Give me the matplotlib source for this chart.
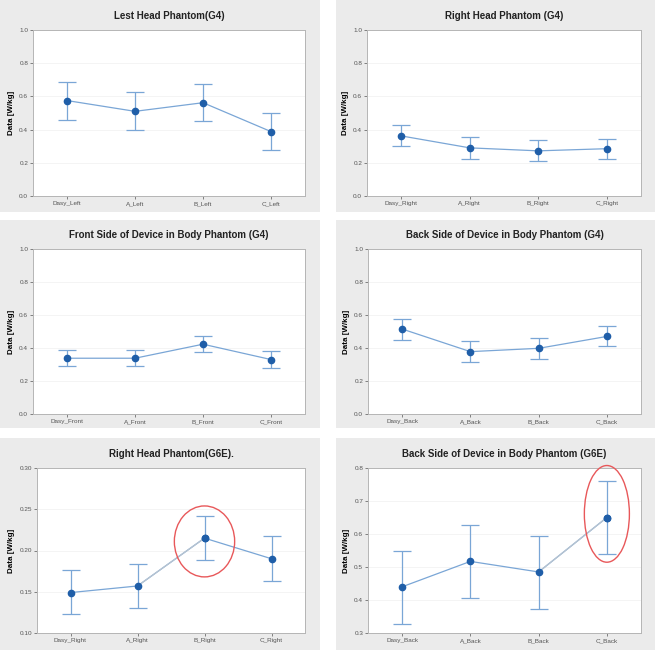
import matplotlib.pyplot as plt
from matplotlib.patches import Rectangle, Ellipse

plt.rcParams['font.family'] = ['Liberation Sans', 'DejaVu Sans']

# panel data: means and error-bar ends
titles = ['Lest Head Phantom(G4)', 'Right Head Phantom (G4)',
          'Front Side of Device in Body Phantom (G4)', 'Back Side of Device in Body Phantom (G4)',
          'Right Head Phantom(G6E).', 'Back Side of Device in Body Phantom (G6E)']
labels = [['Dasy_Left', 'A_Left', 'B_Left', 'C_Left'],
          ['Dasy_Right', 'A_Right', 'B_Right', 'C_Right'],
          ['Dasy_Front', 'A_Front', 'B_Front', 'C_Front'],
          ['Dasy_Back', 'A_Back', 'B_Back', 'C_Back'],
          ['Dasy_Right', 'A_Right', 'B_Right', 'C_Right'],
          ['Dasy_Back', 'A_Back', 'B_Back', 'C_Back']]
means = [[0.575, 0.510, 0.562, 0.388],
         [0.362, 0.290, 0.272, 0.285],
         [0.338, 0.338, 0.423, 0.330],
         [0.515, 0.378, 0.398, 0.470],
         [0.149, 0.157, 0.215, 0.190],
         [0.440, 0.517, 0.485, 0.650]]
lows = [[0.460, 0.395, 0.450, 0.275],
        [0.300, 0.225, 0.210, 0.225],
        [0.290, 0.290, 0.375, 0.277],
        [0.450, 0.313, 0.335, 0.410],
        [0.123, 0.130, 0.188, 0.163],
        [0.328, 0.406, 0.374, 0.540]]
highs = [[0.685, 0.625, 0.675, 0.500],
         [0.425, 0.355, 0.335, 0.345],
         [0.385, 0.385, 0.470, 0.380],
         [0.578, 0.440, 0.462, 0.535],
         [0.176, 0.184, 0.242, 0.217],
         [0.548, 0.628, 0.593, 0.760]]
ylims = [(0, 1.0), (0, 1.0), (0, 1.0), (0, 1.0), (0.10, 0.30), (0.3, 0.8)]
yticks = [[0, 0.2, 0.4, 0.6, 0.8, 1.0]] * 4 + [[0.10, 0.15, 0.20, 0.25, 0.30], [0.3, 0.4, 0.5, 0.6, 0.7, 0.8]]
ytick_fmt = ['%.1f'] * 4 + ['%.2f', '%.1f']
# highlighted point: (panel, index, ellipse centre y, width, height)
marks = [(4, 2, 0.211, 0.9, 0.086), (5, 3, 0.661, 0.66, 0.293)]

W, H = 655, 650
# pixel boxes (left, top, right, bottom)
panel_boxes = [(0, 0, 320, 212), (336, 0, 655, 212),
               (0, 220, 320, 428), (336, 220, 655, 428),
               (0, 438, 320, 650), (336, 438, 655, 650)]
axes_boxes = [(33, 30, 305, 196), (367, 30, 641, 196),
              (33, 249, 305, 414), (368, 249, 641, 414),
              (37, 468, 305, 633), (368, 468, 641, 633)]

line_c = '#7aa6d6'
dot_c = '#1f5ea8'

fig = plt.figure(figsize=(W / 100, H / 100), dpi=100)
fig.patch.set_facecolor('white')

for (l, t, r, b) in panel_boxes:
    fig.patches.append(Rectangle((l / W, 1 - b / H), (r - l) / W, (b - t) / H,
                                 transform=fig.transFigure, facecolor='#ebebeb',
                                 edgecolor='none', zorder=-10))

for i in range(6):
    l, t, r, b = axes_boxes[i]
    ax = fig.add_axes([l / W, 1 - b / H, (r - l) / W, (b - t) / H])
    ax.set_facecolor('white')
    x = list(range(4))
    m = means[i]
    err = [[m[k] - lows[i][k] for k in x], [highs[i][k] - m[k] for k in x]]
    ax.plot(x, m, color=line_c, lw=0.9, zorder=2)
    ax.errorbar(x, m, yerr=err, fmt='none', ecolor=line_c, elinewidth=0.9,
                capsize=6.2, capthick=0.9, zorder=2)
    ax.plot(x, m, 'o', color=dot_c, ms=4.5, zorder=3)
    ax.set_xlim(-0.5, 3.5)
    ax.set_ylim(*ylims[i])
    ax.set_xticks(x)
    ax.set_xticklabels(labels[i])
    ax.set_yticks(yticks[i])
    ax.set_yticklabels([ytick_fmt[i] % v for v in yticks[i]])
    ax.tick_params(labelsize=4.6, colors='#555555', length=2, width=0.5, pad=1.5)
    for y in yticks[i][1:-1]:
        ax.axhline(y, color='#f3f3f3', lw=0.6, zorder=0)
    for s in ax.spines.values():
        s.set_color('#b5b5b5')
        s.set_linewidth(0.7)
    ax.set_title(titles[i], fontsize=7, fontweight='bold', pad=8, color='#222222')
    ax.set_ylabel('Data [W/kg]', fontsize=5.8, fontweight='bold', labelpad=3)

    for (p, k, cy, ew, eh) in marks:
        if p == i:
            # faded segment into the circled point, as in the source
            ax.plot([k - 1, k], [m[k - 1], m[k]], color='#b8c4d0', lw=0.9, zorder=2.5)
            ax.plot(k, m[k], 'o', color=dot_c, ms=4.5, zorder=3)
            ax.add_patch(Ellipse((k, cy), ew, eh, fill=False, edgecolor='#e8585a',
                                 lw=1.0, clip_on=False, zorder=4))

fig.savefig('out.png', dpi=100)
